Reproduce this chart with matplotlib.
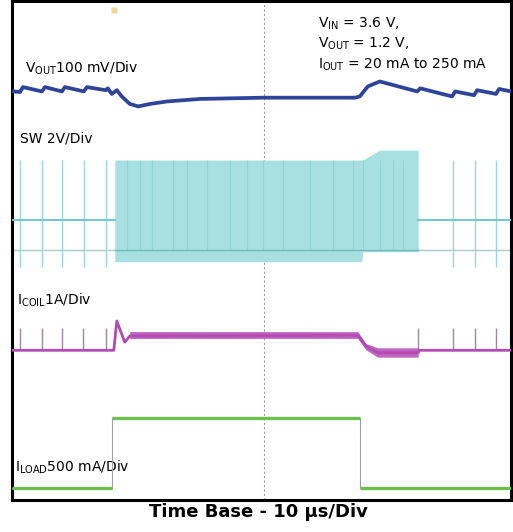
import numpy as np
import matplotlib
matplotlib.use('Agg')
from matplotlib import pyplot as plt

plt.rcParams['font.family'] = ['DejaVu Sans']
plt.rcParams['mathtext.fontset'] = 'dejavusans'

# tempo em us (10 us/div), amplitude em divisões da tela (0 = base, 8 = topo)
vout_t = [0.4, 1.6, 2.2, 6.0, 6.6, 10.0, 10.6, 14.4, 15.0, 18.8, 19.2, 20.0, 21.0,
          22.0, 23.6, 25.3, 27.7, 31.1, 37.7, 50.3, 68.7, 69.7, 71.3, 73.7, 81.2,
          81.8, 88.2, 88.8, 92.6, 93.2, 97.0, 97.6, 100.0]
vout_y = [6.55, 6.54, 6.62, 6.55, 6.62, 6.55, 6.62, 6.55, 6.62, 6.57, 6.60, 6.51, 6.57,
          6.47, 6.35, 6.31, 6.35, 6.39, 6.43, 6.45, 6.45, 6.47, 6.63, 6.71, 6.55,
          6.60, 6.47, 6.55, 6.49, 6.57, 6.51, 6.59, 6.55]

sw_base = 4.49
sw_low = 4.01
sw_spikes = [1.6, 6.0, 10.0, 14.4, 18.8, 88.4, 92.8, 97.0]
sw_spike_top = 5.45
sw_spike_bot = 3.73
sw_blk_t = [20.6, 70.1, 70.3, 73.7, 81.4]
sw_blk_top = [5.45, 5.45, 5.45, 5.61, 5.61]
sw_blk_bot = [3.82, 3.82, 3.98, 3.98, 3.98]
sw_edges = [23.0, 25.7, 28.1, 32.3, 35.1, 39.1, 43.7, 47.1, 50.3, 54.3, 59.7, 64.3,
            68.3, 70.3, 73.7, 76.4, 78.4]

icoil_t = [0.0, 20.4, 21.0, 22.6, 23.6, 69.3, 70.9, 73.3, 81.4, 81.6, 100.0]
icoil_y = [2.40, 2.40, 2.87, 2.53, 2.63, 2.64, 2.47, 2.36, 2.36, 2.40, 2.40]
icoil_band_t = [23.6, 69.3, 70.9, 73.3, 81.4]
icoil_band_hi = [2.70, 2.70, 2.51, 2.44, 2.44]
icoil_band_lo = [2.59, 2.59, 2.41, 2.29, 2.29]
icoil_spikes = [1.6, 6.0, 10.0, 14.2, 18.8, 81.4, 88.4, 92.8, 97.0]
icoil_spike_top = 2.75

iload_t = [0.0, 20.0, 20.0, 69.7, 69.7, 100.0]
iload_y = [0.19, 0.19, 1.31, 1.31, 0.19, 0.19]

fig = plt.figure(figsize=(5.13, 5.32), dpi=100)
ax = fig.add_axes([12/513, 32/532, 499/513, 499/532])
ax.set_xlim(0, 100)
ax.set_ylim(0, 8)
ax.set_xticks([])
ax.set_yticks([])
for s in ax.spines.values():
    s.set_linewidth(2.2)
    s.set_color('black')

# grade central
ax.axvline(50.5, color='#9a9a9a', lw=0.8, ls=(0, (2, 2)), zorder=1)
ax.plot([20.5], [7.85], 's', color='#f2c27a', ms=4, alpha=0.7, mec='none')

# SW
ax.axhline(sw_low, color='#a9c9ca', lw=1.0, zorder=2)
ax.fill_between(sw_blk_t, sw_blk_bot, sw_blk_top, color='#a8e0e1', lw=0, zorder=3)
ax.vlines(sw_edges, 3.99, 5.45, color='#8fd2d4', lw=0.9, alpha=0.8, zorder=3)
ax.plot([sw_blk_t[0], sw_blk_t[-1]], [sw_low, sw_low], color='#6fbcbf', lw=1.0, zorder=4)
ax.plot([0, sw_blk_t[0]], [sw_base, sw_base], color='#6ec9cb', lw=1.4, zorder=4)
ax.plot([sw_blk_t[-1], 100], [sw_base, sw_base], color='#6ec9cb', lw=1.4, zorder=4)
ax.vlines(sw_spikes, sw_spike_bot, sw_spike_top, color='#9ad7d8', lw=1.0, zorder=3)

# VOUT
ax.plot(vout_t, vout_y, color='#2e4499', lw=2.7, solid_joinstyle='round', zorder=5)

# ICOIL
ax.vlines(icoil_spikes, icoil_y[0], icoil_spike_top, color='#9c8a9c', lw=1.0, zorder=4)
ax.fill_between(icoil_band_t, icoil_band_lo, icoil_band_hi, color='#c066c2', lw=0, zorder=5)
ax.plot(icoil_t, icoil_y, color='#b04cb2', lw=2.0, zorder=5)

# ILOAD
ax.plot(iload_t, iload_y, color='#a0a0a0', lw=0.8, zorder=4)
for i in range(len(iload_t) - 1):
    if iload_y[i] == iload_y[i + 1]:
        ax.plot(iload_t[i:i + 2], iload_y[i:i + 2], color='#6cbf4a', lw=2.4,
                solid_capstyle='butt', zorder=5)

fs = 10
ax.text(2.6, 6.86, r'V$_{\mathrm{OUT}}$100 mV/Div', fontsize=fs)
ax.text(1.6, 5.73, 'SW 2V/Div', fontsize=fs)
ax.text(1.0, 3.13, r'I$_{\mathrm{COIL}}$1A/Div', fontsize=fs)
ax.text(0.6, 0.45, r'I$_{\mathrm{LOAD}}$500 mA/Div', fontsize=fs)
ax.text(61.3, 7.58, r'V$_{\mathrm{IN}}$ = 3.6 V,', fontsize=fs)
ax.text(61.3, 7.25, r'V$_{\mathrm{OUT}}$ = 1.2 V,', fontsize=fs)
ax.text(61.3, 6.91, r'I$_{\mathrm{OUT}}$ = 20 mA to 250 mA', fontsize=fs)

fig.text(258/513, 1 - 517/532, 'Time Base - 10 \u03bcs/Div', fontsize=13,
         fontweight='bold', ha='center', va='baseline')

fig.savefig('out.png', dpi=100)
